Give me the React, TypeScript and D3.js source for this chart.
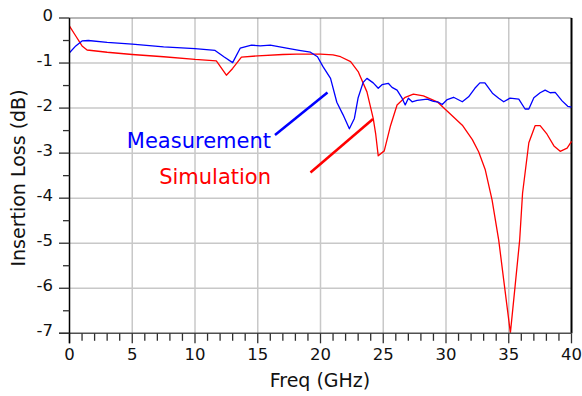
import React from "react";
import * as d3 from "d3";

const measFreq = [0, 0.5, 1.0, 1.5, 3, 5, 7.5, 10, 11.6, 12.3, 13.0, 13.6, 14.5, 15.2, 16, 17.3, 18.3, 19.2, 19.76, 20.2, 20.8, 21.3, 21.8, 22.3, 22.7, 23.0, 23.4, 23.7, 24.2, 24.6, 24.9, 25.4, 25.7, 26.1, 26.5, 26.75, 27.0, 27.3, 27.7, 28.5, 29.0, 29.4, 29.7, 30.1, 30.6, 31.3, 31.8, 32.3, 32.7, 33.1, 33.7, 34.2, 34.6, 35.1, 35.8, 36.3, 36.6, 37.0, 37.5, 37.9, 38.3, 38.7, 39.25, 39.7, 40];
const measLoss = [-0.77, -0.62, -0.51, -0.5, -0.54, -0.58, -0.64, -0.68, -0.72, -0.86, -0.99, -0.67, -0.6, -0.62, -0.6, -0.67, -0.72, -0.76, -0.86, -1.08, -1.34, -1.87, -2.15, -2.46, -2.23, -1.77, -1.43, -1.34, -1.44, -1.56, -1.48, -1.45, -1.54, -1.6, -1.78, -1.93, -1.78, -1.86, -1.83, -1.8, -1.85, -1.87, -1.92, -1.81, -1.76, -1.86, -1.75, -1.56, -1.44, -1.44, -1.67, -1.78, -1.86, -1.78, -1.8, -2.02, -2.02, -1.77, -1.66, -1.6, -1.66, -1.65, -1.84, -1.96, -1.98];

const simFreq = [0, 0.5, 1.0, 1.4, 3, 5, 7.5, 10, 11.7, 12.5, 13.0, 13.7, 15, 17, 18.1, 20, 21.0, 21.6, 22.4, 23.0, 23.7, 24.2, 24.4, 24.6, 25.08, 25.56, 26.1, 26.75, 27.4, 28.2, 29.3, 30.3, 31.3, 32.1, 32.6, 33.13, 33.67, 34.2, 34.6, 35.13, 35.5, 35.87, 36.1, 36.6, 37.1, 37.5, 38.05, 38.6, 39.1, 39.65, 40];
const simLoss = [-0.18, -0.4, -0.62, -0.71, -0.76, -0.81, -0.86, -0.92, -0.95, -1.27, -1.12, -0.87, -0.84, -0.81, -0.8, -0.8, -0.82, -0.86, -0.97, -1.19, -1.64, -2.23, -2.58, -3.06, -2.95, -2.41, -1.93, -1.76, -1.69, -1.73, -1.86, -2.12, -2.38, -2.7, -2.97, -3.37, -4.04, -4.93, -5.82, -6.99, -5.97, -4.93, -3.89, -2.77, -2.39, -2.39, -2.58, -2.84, -2.96, -2.89, -2.74];

const xTicks = [0, 5, 10, 15, 20, 25, 30, 35, 40];
const yTicks = [0, -1, -2, -3, -4, -5, -6, -7];
const seriesNames = ["Measurement", "Simulation"];

const W = 582;
const H = 396;
const FONT = "DejaVu Sans, Verdana, sans-serif";

export default function App() {
  const x = d3.scaleLinear().domain([0, 40]).range([69.5, 571.5]);
  const y = d3.scaleLinear().domain([0, -7]).range([18, 333.3]);

  const line = d3
    .line<[number, number]>()
    .x((d) => x(d[0]))
    .y((d) => y(d[1]));

  const meas: [number, number][] = measFreq.map((f, i) => [f, measLoss[i]]);
  const sim: [number, number][] = simFreq.map((f, i) => [f, simLoss[i]]);

  const minorX = d3.range(0, 41, 1);
  const minorY = d3.range(0, -7.01, -0.5);

  return (
    <svg
      width={W}
      height={H}
      style={{ position: "absolute", left: 0, top: 0, background: "#fff" }}
      fontFamily={FONT}
    >
      <rect x={0} y={0} width={W} height={H} fill="#fff" />
      {/* grid */}
      {xTicks.slice(1, -1).map((t) => (
        <line key={"gx" + t} x1={x(t)} x2={x(t)} y1={y(0)} y2={y(-7)} stroke="#c8c8c8" strokeWidth={1.5} />
      ))}
      {yTicks.slice(1, -1).map((t) => (
        <line key={"gy" + t} x1={x(0)} x2={x(40)} y1={y(t)} y2={y(t)} stroke="#c8c8c8" strokeWidth={1.5} />
      ))}
      {/* top border */}
      <line x1={x(0)} x2={x(40)} y1={y(0)} y2={y(0)} stroke="#707070" strokeWidth={1.2} />
      {/* right border */}
      <line x1={x(40)} x2={x(40)} y1={y(0)} y2={y(-7)} stroke="#000" strokeWidth={2} />

      {/* curves */}
      <path d={line(sim) || ""} fill="none" stroke="#ff0000" strokeWidth={1.3} strokeLinejoin="round" />
      <path d={line(meas) || ""} fill="none" stroke="#0000ff" strokeWidth={1.3} strokeLinejoin="round" />

      {/* bottom axis */}
      <line x1={59} x2={x(40)} y1={y(-7)} y2={y(-7)} stroke="#505050" strokeWidth={1.5} />
      {minorX.map((t) => (
        <line
          key={"tx" + t}
          x1={x(t)}
          x2={x(t)}
          y1={y(-7)}
          y2={y(-7) + (t % 5 === 0 ? 10 : 7.5)}
          stroke="#303030"
          strokeWidth={1.3}
        />
      ))}
      {xTicks.map((t) => (
        <text key={"lx" + t} x={x(t)} y={360} textAnchor="middle" fontSize={16.5} fill="#111">
          {t}
        </text>
      ))}

      {/* left axis */}
      <line x1={x(0)} x2={x(0)} y1={y(0)} y2={y(-7) + 10} stroke="#000" strokeWidth={1.5} />
      {minorY.map((t, i) => (
        <line
          key={"ty" + i}
          x1={i % 2 === 0 ? 59 : 63}
          x2={x(0)}
          y1={y(t)}
          y2={y(t)}
          stroke="#303030"
          strokeWidth={1.3}
        />
      ))}
      {yTicks.map((t) => (
        <text key={"ly" + t} x={53} y={y(t) + 3} textAnchor="end" fontSize={16.5} fill="#111">
          {t}
        </text>
      ))}

      {/* axis titles */}
      <text x={320} y={387} textAnchor="middle" fontSize={19} fill="#111">
        Freq (GHz)
      </text>
      <text
        transform={`translate(25, 178) rotate(-90)`}
        textAnchor="middle"
        fontSize={19}
        fill="#111"
      >
        Insertion Loss (dB)
      </text>

      {/* annotations */}
      <text x={271} y={148} textAnchor="end" fontSize={21} fill="#0000ff">
        {seriesNames[0]}
      </text>
      <line x1={275} y1={135} x2={327.5} y2={92.5} stroke="#0000ff" strokeWidth={2.5} />
      <text x={271} y={184} textAnchor="end" fontSize={21} fill="#ff0000">
        {seriesNames[1]}
      </text>
      <line x1={310.5} y1={172.5} x2={373} y2={119} stroke="#ff0000" strokeWidth={2.5} />
    </svg>
  );
}
